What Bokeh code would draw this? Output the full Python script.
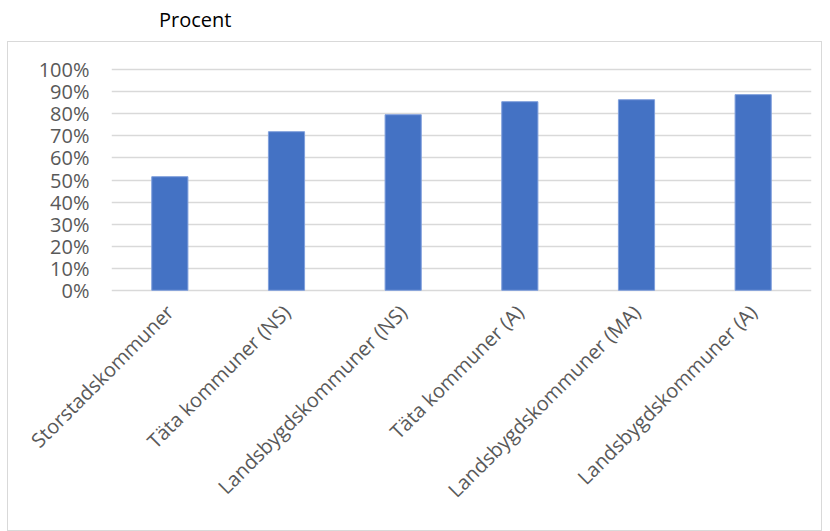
from bokeh.plotting import figure
from bokeh.models import Range1d, FactorRange, NumeralTickFormatter, FixedTicker, Div
from bokeh.layouts import column
from bokeh.embed import file_html
from bokeh.resources import INLINE
from math import pi

categories = ["Storstadskommuner", "Täta kommuner (NS)", "Landsbygdskommuner (NS)",
              "Täta kommuner (A)", "Landsbygdskommuner (MA)", "Landsbygdskommuner (A)"]
values = [0.515, 0.719, 0.796, 0.855, 0.864, 0.887]
y_ticks = [0, 0.1, 0.2, 0.3, 0.4, 0.5, 0.6, 0.7, 0.8, 0.9, 1.0]

FONT = "Open Sans"
GRAY = "#595959"

title = Div(text="Procent", width=814, height=31,
            styles={"font-family": FONT, "font-size": "20px", "color": "#000000",
                    "padding-left": "154px", "padding-top": "3px", "line-height": "24px"})

p = figure(x_range=FactorRange(*categories, range_padding=0),
           y_range=Range1d(-0.01, 1.01),
           width=815, height=490, output_backend="svg", toolbar_location=None,
           min_border_left=103, min_border_right=12, min_border_top=25, min_border_bottom=240)
p.margin = (0, 0, 0, 7)
p.styles = {"border": "1px solid #d9d9d9"}
p.outline_line_color = None
p.background_fill_color = "white"
p.border_fill_color = "white"

p.vbar(x=categories, top=values, width=0.31, fill_color="#4472C4", line_color="#7f9fdc", line_width=1)

p.yaxis.ticker = FixedTicker(ticks=y_ticks)
p.yaxis.formatter = NumeralTickFormatter(format="0%")
p.yaxis.axis_line_color = None
p.yaxis.major_tick_line_color = None
p.yaxis.minor_tick_line_color = None
p.yaxis.major_tick_out = 0
p.yaxis.major_label_standoff = 22
p.yaxis.major_label_text_font = FONT
p.yaxis.major_label_text_font_size = "20px"
p.yaxis.major_label_text_color = GRAY

p.xaxis.axis_line_color = None
p.xaxis.major_tick_line_color = None
p.xaxis.major_tick_out = 0
p.xaxis.major_label_orientation = pi / 4
p.xaxis.major_label_standoff = 16
p.xaxis.major_label_text_font = FONT
p.xaxis.major_label_text_font_size = "20px"
p.xaxis.major_label_text_color = GRAY

p.xgrid.grid_line_color = None
p.ygrid.ticker = FixedTicker(ticks=y_ticks)
p.ygrid.grid_line_color = "#d9d9d9"
p.ygrid.grid_line_width = 1.5

layout = column(title, p, spacing=0)
open("out.html", "w").write(file_html(layout, INLINE))
